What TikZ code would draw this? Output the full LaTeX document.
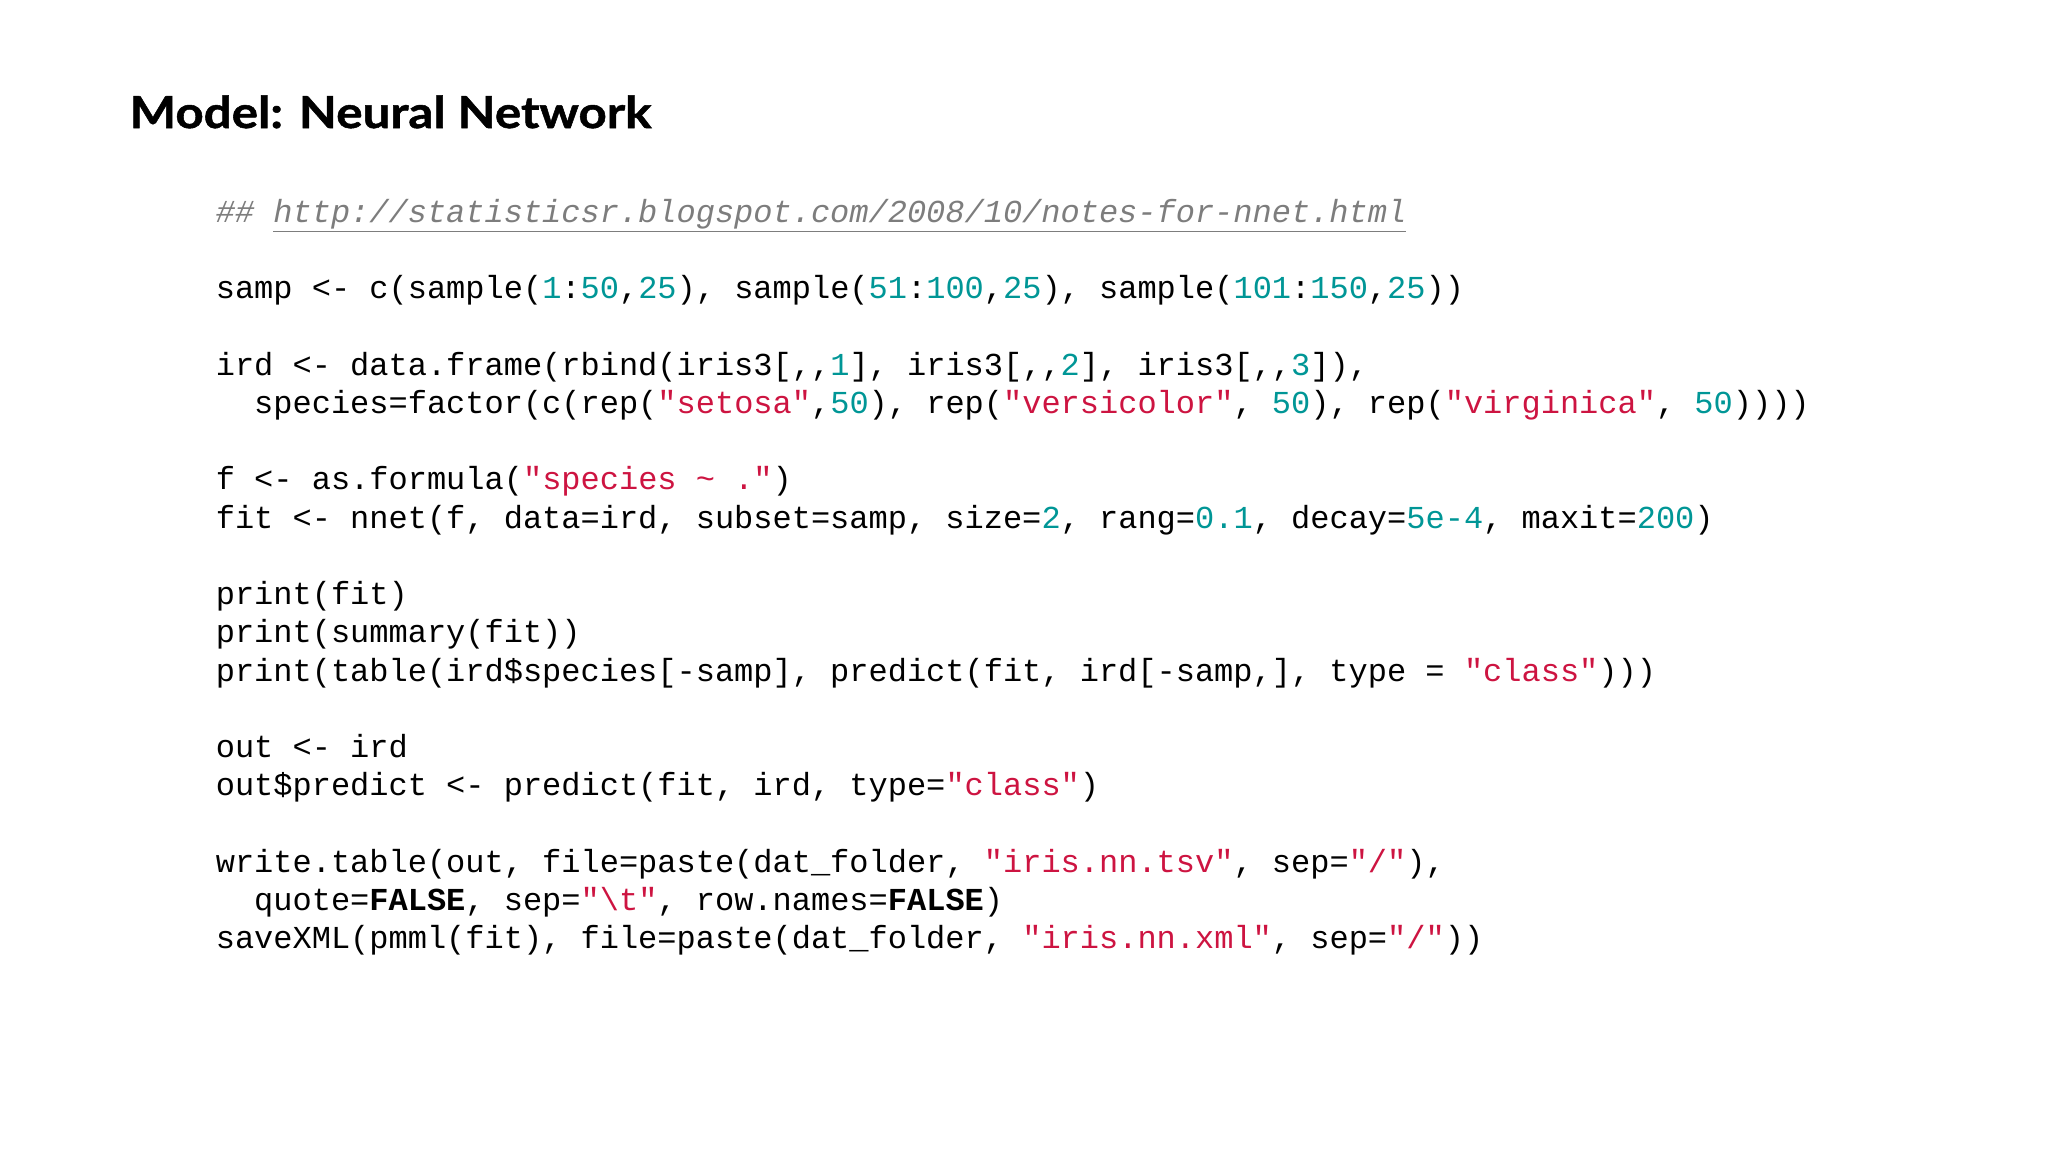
\documentclass[tikz,border=0pt]{standalone}
\usepackage{fontspec}
\setmainfont{Liberation Serif}
\newfontfamily\titlefont[FakeStretch=1.12,FakeBold=1.2]{Lato}
\setmonofont{Liberation Mono}
\definecolor{numc}{RGB}{0,150,150}
\definecolor{strc}{RGB}{205,20,65}
\definecolor{cmtc}{RGB}{125,125,125}
\newcommand{\cnum}[1]{\textcolor{numc}{#1}}
\newcommand{\cstr}[1]{\textcolor{strc}{#1}}
\tikzset{codeline/.style={anchor=base west,inner sep=0pt,font=\ttfamily\fontsize{16}{19}\selectfont}}
\begin{document}
\begin{tikzpicture}[x=1pt,y=-1pt]
\useasboundingbox (0,0) rectangle (1024,576);
\def\lx{107.7}
\def\cw{9.6}
\newcommand{\ly}[1]{111+#1*19.13}
\node[anchor=base west,inner sep=0pt,font=\titlefont\bfseries\fontsize{22}{26}\selectfont] (title) at (64.6,64) {Model: Neural Network};
\node[codeline,text=cmtc] (l0) at (\lx,{\ly{0}}) {\itshape \#\# \underline{http://statisticsr.blogspot.com/2008/10/notes-for-nnet.html}};
\node[codeline] (l2) at (\lx,{\ly{2}}) {samp <- c(sample(\cnum{1}:\cnum{50},\cnum{25}), sample(\cnum{51}:\cnum{100},\cnum{25}), sample(\cnum{101}:\cnum{150},\cnum{25}))};
\node[codeline] (l4) at (\lx,{\ly{4}}) {ird <- data.frame(rbind(iris3[,,\cnum{1}], iris3[,,\cnum{2}], iris3[,,\cnum{3}]),};
\node[codeline] (l5) at (\lx+2*\cw,{\ly{5}}) {species=factor(c(rep(\cstr{"setosa"},\cnum{50}), rep(\cstr{"versicolor"}, \cnum{50}), rep(\cstr{"virginica"}, \cnum{50}))))};
\node[codeline] (l7) at (\lx,{\ly{7}}) {f <- as.formula(\cstr{"species \textasciitilde{} ."})};
\node[codeline] (l8) at (\lx,{\ly{8}}) {fit <- nnet(f, data=ird, subset=samp, size=\cnum{2}, rang=\cnum{0.1}, decay=\cnum{5e-4}, maxit=\cnum{200})};
\node[codeline] (l10) at (\lx,{\ly{10}}) {print(fit)};
\node[codeline] (l11) at (\lx,{\ly{11}}) {print(summary(fit))};
\node[codeline] (l12) at (\lx,{\ly{12}}) {print(table(ird\$species[-samp], predict(fit, ird[-samp,], type = \cstr{"class"})))};
\node[codeline] (l14) at (\lx,{\ly{14}}) {out <- ird};
\node[codeline] (l15) at (\lx,{\ly{15}}) {out\$predict <- predict(fit, ird, type=\cstr{"class"})};
\node[codeline] (l17) at (\lx,{\ly{17}}) {write.table(out, file=paste(dat\_folder, \cstr{"iris.nn.tsv"}, sep=\cstr{"/"}),};
\node[codeline] (l18) at (\lx+2*\cw,{\ly{18}}) {quote=\textbf{FALSE}, sep=\cstr{"\textbackslash t"}, row.names=\textbf{FALSE})};
\node[codeline] (l19) at (\lx,{\ly{19}}) {saveXML(pmml(fit), file=paste(dat\_folder, \cstr{"iris.nn.xml"}, sep=\cstr{"/"}))};
\end{tikzpicture}
\end{document}
